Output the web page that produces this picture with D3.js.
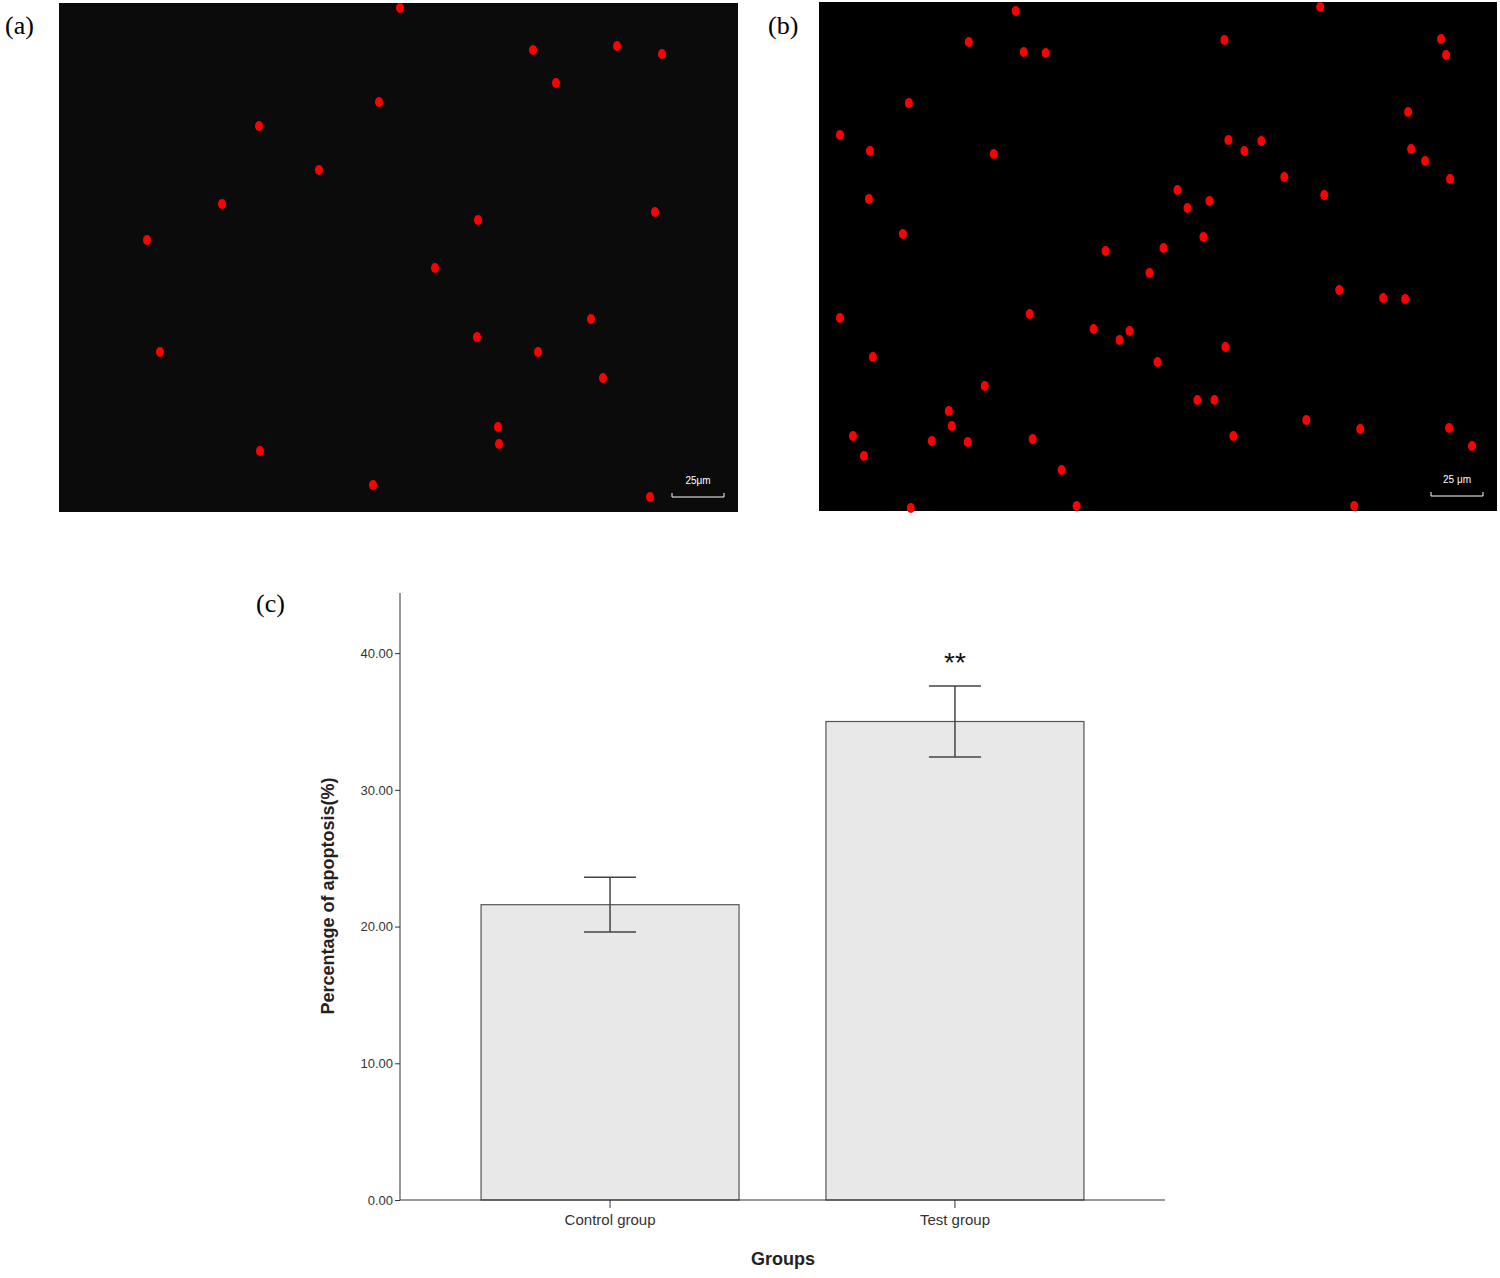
<!DOCTYPE html>
<html><head><meta charset="utf-8">
<script src="https://cdn.jsdelivr.net/npm/d3@7"></script>
<style>body{margin:0;background:#fff}</style>
</head><body>
<svg id="chart"></svg>
<script>
// DATOS
const groups = ["Control group", "Test group"];
const means = [21.6, 35.0];
const errLow = [19.6, 32.4];
const errHigh = [23.6, 37.6];
const yTicks = [0, 10, 20, 30, 40];
// puntos rojos (coordenadas en la imagen, px de la foto)
const dotsA = [[341,5],[474,47],[558,43],[603,51],[497,80],[320,99],[200,123],[260,167],[163,201],[596,209],[419,217],[88,237],[376,265],[532,316],[418,334],[101,349],[479,349],[544,375],[439,424],[440,441],[201,448],[314,482],[591,494]];
const dotsB = [[197,9],[502,5],[150,40],[205,50],[227,51],[406,38],[623,37],[628,53],[90,101],[21,133],[51,149],[175,152],[410,138],[426,149],[443,139],[590,110],[593,147],[607,159],[632,177],[466,175],[359,188],[369,206],[391,199],[506,193],[50,197],[84,232],[385,235],[287,249],[345,246],[331,271],[521,288],[565,296],[587,297],[21,316],[211,312],[275,327],[311,329],[301,338],[54,355],[339,360],[407,345],[166,384],[379,398],[396,398],[130,409],[133,424],[34,434],[45,454],[113,439],[149,440],[214,437],[243,468],[415,434],[488,418],[542,427],[631,426],[654,444],[92,506],[258,504],[536,504]];

const W = 1500, H = 1278;
const svg = d3.select("#chart").attr("width", W).attr("height", H)
  .style("font-family", "Arial, 'Liberation Sans', sans-serif");

// IMAGENES
function panel(x0, y0, w, h, dots, fill, scaleTxt) {
  const g = svg.append("g").attr("transform", `translate(${x0},${y0})`);
  g.append("rect").attr("width", w).attr("height", h).attr("fill", fill);
  const sx = d3.scaleLinear().domain([0, 679]).range([0, w]);
  const sy = d3.scaleLinear().domain([0, 509]).range([0, h]);
  g.selectAll("ellipse").data(dots).enter().append("ellipse")
    .attr("cx", d => sx(d[0])).attr("cy", d => sy(d[1]))
    .attr("rx", 4).attr("ry", 5).attr("fill", "#ff0000");
  g.append("path").attr("d", `M${w-66},${h-19}v4h52v-4`).attr("stroke", "#fff").attr("fill", "none");
  g.append("text").attr("x", w-40).attr("y", h-28).attr("text-anchor", "middle")
    .attr("fill", "#fff").attr("font-size", 10).text(scaleTxt);
}
panel(59, 3, 679, 509, dotsA, "#0b0b0b", "25μm");
panel(819, 2, 678, 509, dotsB, "#000", "25 μm");

const lab = (x, y, t) => svg.append("text").attr("x", x).attr("y", y)
  .attr("font-family", "'Liberation Serif', 'Times New Roman', serif").attr("font-size", 26).text(t);
lab(5, 34, "(a)"); lab(768, 34, "(b)"); lab(256, 612, "(c)");

// GRAFICO DE BARRAS
const x = d3.scaleBand().domain(groups).range([400, 1165]).paddingInner(0.252).paddingOuter(0.235);
const y = d3.scaleLinear().domain([0, 44.4]).range([1200, 593]);

svg.append("g").selectAll("rect").data(groups).enter().append("rect")
  .attr("x", d => x(d)).attr("width", x.bandwidth())
  .attr("y", (d, i) => y(means[i])).attr("height", (d, i) => y(0) - y(means[i]))
  .attr("fill", "#e8e8e8").attr("stroke", "#555").attr("stroke-width", 1.2);

const eb = svg.append("g").attr("stroke", "#444").attr("stroke-width", 1.5);
groups.forEach((gname, i) => {
  const cx = x(gname) + x.bandwidth() / 2;
  eb.append("line").attr("x1", cx).attr("x2", cx).attr("y1", y(errLow[i])).attr("y2", y(errHigh[i]));
  [errLow[i], errHigh[i]].forEach(v => eb.append("line")
    .attr("x1", cx - 26).attr("x2", cx + 26).attr("y1", y(v)).attr("y2", y(v)));
});

svg.append("text").attr("x", x(groups[1]) + x.bandwidth() / 2).attr("y", y(errHigh[1]) + 2 - 16)
  .attr("text-anchor", "middle").attr("font-size", 28).attr("fill", "#111").text("**");

// EJES
const yAxis = svg.append("g").attr("transform", "translate(400,0)")
  .call(d3.axisLeft(y).tickValues(yTicks).tickFormat(d3.format(".2f")).tickSize(5).tickPadding(2));
yAxis.select(".domain").attr("d", `M0,${y(0)}V593`);
const xAxis = svg.append("g").attr("transform", `translate(0,${y(0)})`)
  .call(d3.axisBottom(x).tickSize(8).tickPadding(6));
xAxis.select(".domain").attr("d", "M400,0H1165");
svg.selectAll(".tick text").attr("font-size", 15).attr("fill", "#333")
  .attr("font-family", "Arial, 'Liberation Sans', sans-serif");
yAxis.selectAll(".tick text").attr("font-size", 13);
svg.selectAll(".domain, .tick line").attr("stroke", "#333");

svg.append("text").attr("x", 783).attr("y", 1265).attr("text-anchor", "middle")
  .attr("font-weight", "bold").attr("font-size", 18).attr("fill", "#222").text("Groups");
svg.append("text").attr("transform", "translate(334,896) rotate(-90)").attr("text-anchor", "middle")
  .attr("font-weight", "bold").attr("font-size", 18).attr("fill", "#222").text("Percentage of apoptosis(%)");
</script>
</body></html>
